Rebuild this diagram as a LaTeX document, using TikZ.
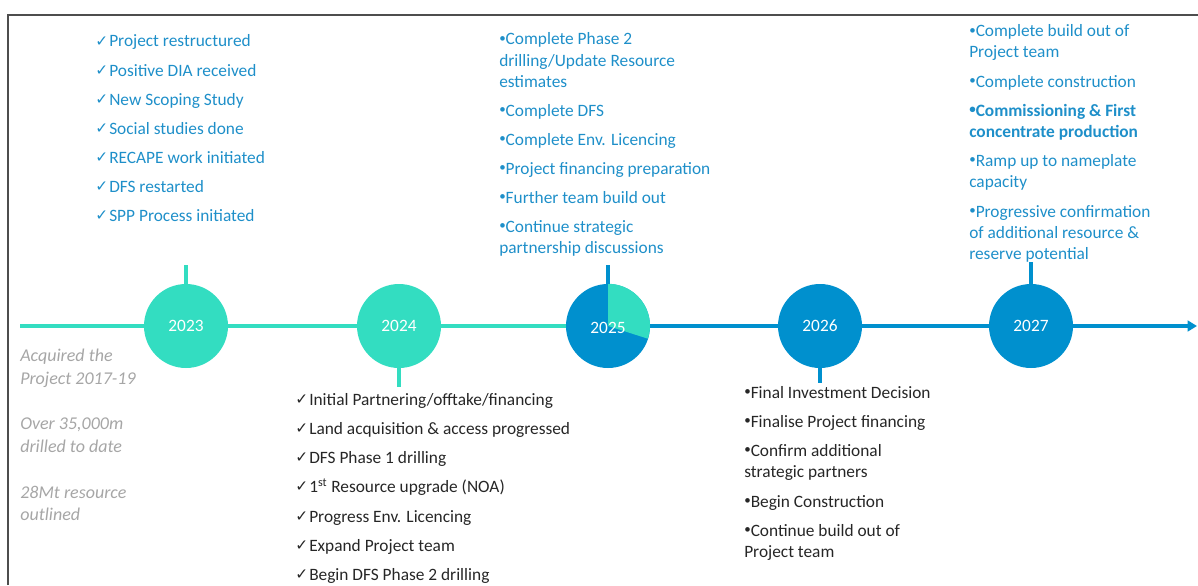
\documentclass[tikz,border=0pt]{standalone}
\usepackage{fontspec}
\setmainfont{Carlito}
\newfontfamily\djv{DejaVu Sans}
\usetikzlibrary{arrows.meta,backgrounds}
\definecolor{tealc}{HTML}{33DDC1}
\definecolor{bluec}{HTML}{0090CE}
\definecolor{btxt}{HTML}{1E8FC9}
\definecolor{gtxt}{HTML}{A6A6A6}
\definecolor{ktxt}{HTML}{262626}
\definecolor{framec}{HTML}{4D4D4D}
\newcommand{\bul}{\raisebox{0.15em}{\scalebox{0.75}{•}}}
\begin{document}
\begin{tikzpicture}[x=0.75pt,y=-0.75pt,
  yr/.style={circle,minimum size=63pt,inner sep=0pt,text=white,font=\fontsize{13}{15}\selectfont},
  lbl/.style={anchor=base west,inner sep=0pt,font=\fontsize{13}{15}\selectfont},
  bt/.style={lbl,text=btxt},
  kt/.style={lbl,text=ktxt},
  gt/.style={lbl,text=gtxt,font=\fontsize{13.5}{15}\selectfont\itshape},
  chk/.style={anchor=base west,inner sep=0pt,font=\djv\fontsize{11.5}{12}\selectfont},
  tline/.style={line width=3pt,tealc},
  bline/.style={line width=3pt,bluec},
  tstem/.style={line width=2.4pt,tealc},
  bstem/.style={line width=2.4pt,bluec}]
\useasboundingbox (0,0) rectangle (1198,585);
\draw[framec,line width=1pt] (8,585) -- (8,15) -- (1198,15);

% year circles
\node[yr,fill=tealc] (c23) at (186,326) {2023};
\node[yr,fill=tealc] (c24) at (399,326) {2024};
\node[yr,fill=bluec] (c25) at (608,326) {};
\fill[tealc] (c25.center) -- (c25.90) arc[start angle=90,end angle=-18,radius=31.5pt] -- cycle;
\node[text=white,font=\fontsize{13}{15}\selectfont,inner sep=0pt] (y25) at (608,328) {2025};
\node[yr,fill=bluec] (c26) at (820,326) {2026};
\node[yr,fill=bluec] (c27) at (1031,326) {2027};

\coordinate (s) at (20,326);
\coordinate (e) at (1197,326);
\coordinate (t23) at (186,265);
\coordinate (t24) at (399,387);
\coordinate (t25) at (608,265);
\coordinate (t26) at (820,383);
\coordinate (t27) at (1031,262);

\begin{scope}[on background layer]
\draw[tline] (s) -- (c23);
\draw[tline] (c23) -- (c24);
\draw[tline] (c24) -- (c25);
\draw[bline] (c25) -- (c26);
\draw[bline] (c26) -- (c27);
\draw[bline,-{Triangle[length=7pt,width=8pt]}] (c27) -- (e);
\end{scope}
\draw[tstem] (c23.north) -- (t23);
\draw[tstem] (c24.south) -- (t24);
\draw[bstem] (c25.north) -- (t25);
\draw[bstem] (c26.south) -- (t26);
\draw[bstem] (c27.north) -- (t27);

% 2023 list
\foreach \n/\yy/\tx in {1/41/{Project restructured},2/70/{Positive DIA received},3/99/{New Scoping Study},4/128/{Social studies done},5/157/{RECAPE work initiated},6/186/{DFS restarted},7/215/{SPP Process initiated}}{
  \node[bt] (a\n) at (109,\yy+6) {\tx};
  \node[chk,text=btxt] (ak\n) at (95,\yy+5) {✓};
}
% 2024 list
\foreach \n/\yy/\tx in {1/399/{Initial Partnering/offtake/financing},2/428/{Land acquisition \& access progressed},3/457/{DFS Phase 1 drilling},4/486/{1\textsuperscript{st} Resource upgrade (NOA)},5/516/{Progress Env. Licencing},6/545/{Expand Project team},7/574/{Begin DFS Phase 2 drilling}}{
  \node[kt] (b\n) at (309,\yy+6) {\tx};
  \node[chk,text=ktxt] (bk\n) at (295,\yy+5) {✓};
}
% 2025 list
\foreach \n/\yy/\tx in {1/39/{\bul Complete Phase 2},2/60/{drilling/Update Resource},3/81/{estimates},4/110/{\bul Complete DFS},5/139/{\bul Complete Env. Licencing},6/168/{\bul Project financing preparation},7/197/{\bul Further team build out},8/226/{\bul Continue strategic},9/247/{partnership discussions}}{
  \node[bt] (d\n) at (499,\yy+6) {\tx};
}
% 2026 list
\foreach \n/\yy/\tx in {1/392/{\bul Final Investment Decision},2/421/{\bul Finalise Project financing},3/450/{\bul Confirm additional},4/471/{strategic partners},5/501/{\bul Begin Construction},6/530/{\bul Continue build out of},7/551/{Project team}}{
  \node[kt] (f\n) at (744,\yy+6) {\tx};
}
% 2027 list
\foreach \n/\yy/\tx in {1/31/{\bul Complete build out of},2/52/{Project team},3/81/{\bul Complete construction},4/110/{\bfseries \bul Commissioning \& First},5/131/{\bfseries concentrate production},6/160/{\bul Ramp up to nameplate},7/181/{capacity},8/211/{\bul Progressive confirmation},9/232/{of additional resource \&},10/253/{reserve potential}}{
  \node[bt] (h\n) at (969,\yy+6) {\tx};
}
% left grey notes
\foreach \n/\yy/\tx in {1/355/{Acquired the},2/378/{Project 2017-19},3/423/{Over 35,000m},4/446/{drilled to date},5/492/{28Mt resource},6/514/{outlined}}{
  \node[gt] (g\n) at (20,\yy+6) {\tx};
}
\end{tikzpicture}
\end{document}
